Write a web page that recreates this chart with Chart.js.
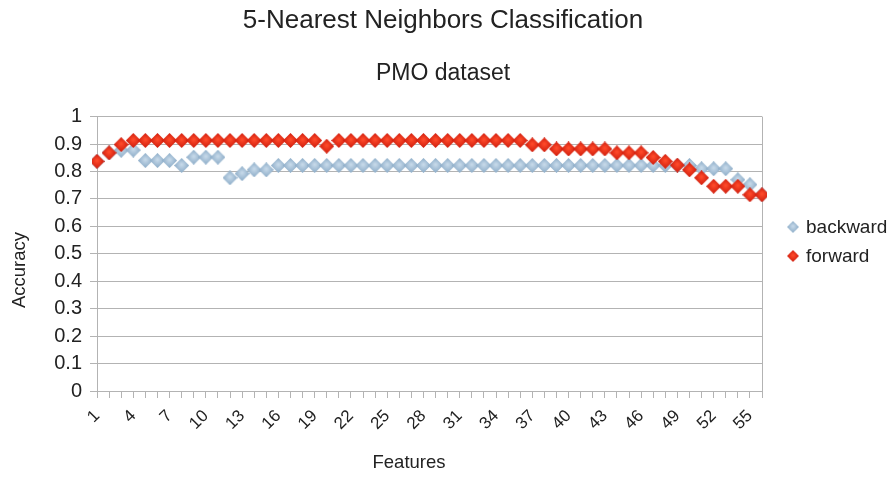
<!DOCTYPE html>
<html>
<head>
<meta charset="utf-8">
<script src="https://cdn.jsdelivr.net/npm/chart.js@4.4.1/dist/chart.umd.min.js"></script>
<style>
  html, body { margin: 0; padding: 0; background: #fff; }
</style>
</head>
<body>
<canvas id="knnChart" width="894" height="477"></canvas>
<script>
// number of selected features
var features = ['1','2','3','4','5','6','7','8','9','10','11','12','13','14','15','16','17','18','19','20',
  '21','22','23','24','25','26','27','28','29','30','31','32','33','34','35','36','37','38','39','40',
  '41','42','43','44','45','46','47','48','49','50','51','52','53','54','55','56'];

// accuracy for backward elimination
var backward = [0.837, 0.868, 0.877, 0.878, 0.840, 0.840, 0.840, 0.822, 0.852, 0.852,
  0.852, 0.777, 0.792, 0.806, 0.806, 0.822, 0.822, 0.822, 0.822, 0.822,
  0.822, 0.822, 0.822, 0.822, 0.822, 0.822, 0.822, 0.822, 0.822, 0.822,
  0.822, 0.822, 0.822, 0.822, 0.822, 0.822, 0.822, 0.822, 0.822, 0.822,
  0.822, 0.822, 0.822, 0.822, 0.822, 0.822, 0.822, 0.822, 0.822, 0.822,
  0.810, 0.810, 0.810, 0.770, 0.752, 0.716];

// accuracy for forward selection
var forward = [0.837, 0.868, 0.898, 0.913, 0.913, 0.913, 0.913, 0.913, 0.913, 0.913,
  0.913, 0.913, 0.913, 0.913, 0.913, 0.913, 0.913, 0.913, 0.913, 0.892,
  0.913, 0.913, 0.913, 0.913, 0.913, 0.913, 0.913, 0.913, 0.913, 0.913,
  0.913, 0.913, 0.913, 0.913, 0.913, 0.913, 0.897, 0.897, 0.882, 0.882,
  0.882, 0.882, 0.882, 0.868, 0.868, 0.868, 0.851, 0.837, 0.823, 0.806,
  0.777, 0.746, 0.746, 0.746, 0.715, 0.715];

var FONT = "'Liberation Sans', Arial, sans-serif";
var TEXT = '#222';
var GRID = '#b3b3b3';

// shaded diamond used as point marker
function diamond(edge, mid) {
  var c = document.createElement('canvas');
  c.width = 15; c.height = 15;
  var g = c.getContext('2d');
  var grad = g.createRadialGradient(7.5, 6.5, 0.5, 7.5, 7.5, 8);
  grad.addColorStop(0, mid);
  grad.addColorStop(1, edge);
  g.fillStyle = grad;
  g.beginPath();
  g.moveTo(7.5, 0); g.lineTo(15, 7.5); g.lineTo(7.5, 15); g.lineTo(0, 7.5);
  g.closePath();
  g.fill();
  return c;
}
var blueMark = diamond('#86a7c4', '#c6d9e9');
var redMark = diamond('#c9180a', '#ff4a2a');

// axis titles and legend drawn at the sides of the plot
var sideText = {
  id: 'sideText',
  afterDraw: function(chart) {
    var ctx = chart.ctx;
    ctx.save();
    ctx.fillStyle = TEXT;
    ctx.font = '18.5px ' + FONT;
    ctx.textAlign = 'center';
    ctx.textBaseline = 'middle';
    ctx.fillText('Features', 409, 463);
    ctx.save();
    ctx.translate(20, 270);
    ctx.rotate(-Math.PI / 2);
    ctx.fillText('Accuracy', 0, 0);
    ctx.restore();

    ctx.font = '19px ' + FONT;
    ctx.textAlign = 'left';
    chart.data.datasets.forEach(function(ds, i) {
      var y = 227 + i * 29;
      ctx.drawImage(ds.pointStyle, 793 - 6, y - 6, 12, 12);
      ctx.fillText(ds.label, 806, y + 1);
    });
    ctx.restore();
  }
};

var ctx = document.getElementById('knnChart').getContext('2d');
var knnChart = new Chart(ctx, {
  type: 'line',
  data: {
    labels: features,
    datasets: [
      { label: 'backward', data: backward, pointStyle: blueMark, showLine: false, order: 2 },
      { label: 'forward', data: forward, pointStyle: redMark, showLine: false, order: 1 }
    ]
  },
  options: {
    responsive: false,
    animation: false,
    layout: { padding: { right: 8 } },
    plugins: {
      legend: { display: false },
      tooltip: { enabled: false },
      title: {
        display: true,
        text: '5-Nearest Neighbors Classification',
        color: TEXT,
        font: { family: FONT, size: 26, weight: 'normal' },
        padding: { top: 5, bottom: 0 }
      },
      subtitle: {
        display: true,
        text: 'PMO dataset',
        color: TEXT,
        font: { family: FONT, size: 23, weight: 'normal' },
        padding: { top: 24, bottom: 28.8 }
      }
    },
    scales: {
      x: {
        offset: false,
        grid: {
          // only the last tick gets a full line, closing the plot on the right
          color: function(c) { return c.index === features.length - 1 ? GRID : 'rgba(0,0,0,0)'; },
          tickColor: GRID,
          tickLength: 7
        },
        border: { color: GRID },
        ticks: {
          autoSkip: false,
          maxRotation: 45,
          minRotation: 45,
          padding: 8,
          color: TEXT,
          font: { family: FONT, size: 17 },
          callback: function(v, i) { return i % 3 === 0 ? this.getLabelForValue(v) : ''; }
        },
        afterFit: function(s) { s.height = 86; }
      },
      y: {
        min: 0,
        max: 1,
        grid: { color: GRID, tickColor: GRID, tickLength: 7 },
        border: { color: GRID },
        ticks: {
          stepSize: 0.1,
          padding: 8,
          color: TEXT,
          font: { family: FONT, size: 20 },
          callback: function(v) { return String(+v.toFixed(1)); }
        },
        afterFit: function(s) { s.width = 97; }
      },
      // empty right-hand axis that leaves room for the legend
      legendRoom: {
        position: 'right',
        display: true,
        grid: { display: false },
        border: { display: false },
        ticks: { display: false },
        afterFit: function(s) { s.width = 124; }
      }
    }
  },
  plugins: [sideText]
});
</script>
</body>
</html>
